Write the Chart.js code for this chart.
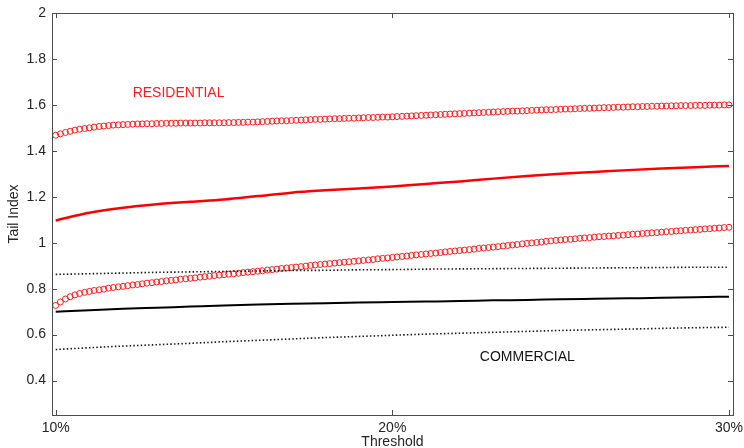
<!DOCTYPE html>
<html>
<head>
<meta charset="utf-8">
<title>Tail Index</title>
<script src="https://cdn.jsdelivr.net/npm/chart.js@4.4.0/dist/chart.umd.min.js"></script>
<style>
  html, body { margin: 0; padding: 0; background: #fff; }
  #wrap { width: 744px; height: 448px; }
</style>
</head>
<body>
<div id="wrap"><canvas id="tail" width="744" height="448"></canvas></div>
<script>
// threshold grid for the bootstrap bands (circles)
const BAND_X = [
  10, 10.14, 10.29, 10.43, 10.57, 10.71, 10.86,
  11, 11.14, 11.29, 11.43, 11.57, 11.71, 11.86,
  12, 12.14, 12.29, 12.43, 12.57, 12.71, 12.86,
  13, 13.14, 13.29, 13.43, 13.57, 13.71, 13.86,
  14, 14.14, 14.29, 14.43, 14.57, 14.71, 14.86,
  15, 15.14, 15.29, 15.43, 15.57, 15.71, 15.86,
  16, 16.14, 16.29, 16.43, 16.57, 16.71, 16.86,
  17, 17.14, 17.29, 17.43, 17.57, 17.71, 17.86,
  18, 18.14, 18.29, 18.43, 18.57, 18.71, 18.86,
  19, 19.14, 19.29, 19.43, 19.57, 19.71, 19.86,
  20, 20.14, 20.29, 20.43, 20.57, 20.71, 20.86,
  21, 21.14, 21.29, 21.43, 21.57, 21.71, 21.86,
  22, 22.14, 22.29, 22.43, 22.57, 22.71, 22.86,
  23, 23.14, 23.29, 23.43, 23.57, 23.71, 23.86,
  24, 24.14, 24.29, 24.43, 24.57, 24.71, 24.86,
  25, 25.14, 25.29, 25.43, 25.57, 25.71, 25.86,
  26, 26.14, 26.29, 26.43, 26.57, 26.71, 26.86,
  27, 27.14, 27.29, 27.43, 27.57, 27.71, 27.86,
  28, 28.14, 28.29, 28.43, 28.57, 28.71, 28.86,
  29, 29.14, 29.29, 29.43, 29.57, 29.71, 29.86,
  30
];

// residential upper band
const RES_UPPER = [
  1.468, 1.474, 1.480, 1.485, 1.490, 1.494, 1.497,
  1.500, 1.503, 1.506, 1.508, 1.510, 1.512, 1.513,
  1.514, 1.515, 1.516, 1.517, 1.517, 1.518, 1.518,
  1.519, 1.519, 1.520, 1.520, 1.520, 1.521, 1.521,
  1.521, 1.521, 1.521, 1.522, 1.522, 1.522, 1.522,
  1.522, 1.523, 1.523, 1.524, 1.524, 1.525, 1.525,
  1.526, 1.527, 1.528, 1.529, 1.530, 1.531, 1.531,
  1.532, 1.533, 1.534, 1.535, 1.536, 1.537, 1.537,
  1.538, 1.539, 1.540, 1.540, 1.541, 1.542, 1.542,
  1.543, 1.544, 1.545, 1.545, 1.546, 1.547, 1.547,
  1.548, 1.549, 1.550, 1.551, 1.552, 1.553, 1.554,
  1.555, 1.556, 1.557, 1.558, 1.559, 1.560, 1.561,
  1.562, 1.563, 1.564, 1.565, 1.566, 1.567, 1.568,
  1.569, 1.570, 1.571, 1.572, 1.573, 1.573, 1.574,
  1.575, 1.576, 1.577, 1.578, 1.579, 1.579, 1.580,
  1.581, 1.582, 1.582, 1.583, 1.584, 1.585, 1.585,
  1.586, 1.587, 1.588, 1.588, 1.589, 1.590, 1.590,
  1.591, 1.592, 1.592, 1.593, 1.593, 1.594, 1.594,
  1.595, 1.595, 1.596, 1.596, 1.597, 1.597, 1.597,
  1.598, 1.598, 1.598, 1.599, 1.599, 1.599, 1.600,
  1.600
];

// residential lower band
const RES_LOWER = [
  0.727, 0.742, 0.755, 0.765, 0.773, 0.779, 0.784,
  0.788, 0.792, 0.795, 0.798, 0.802, 0.805, 0.808,
  0.810, 0.813, 0.816, 0.818, 0.821, 0.824, 0.826,
  0.829, 0.831, 0.834, 0.836, 0.838, 0.841, 0.843,
  0.845, 0.847, 0.850, 0.852, 0.854, 0.857, 0.859,
  0.861, 0.863, 0.865, 0.867, 0.870, 0.872, 0.874,
  0.876, 0.878, 0.881, 0.883, 0.885, 0.888, 0.890,
  0.892, 0.894, 0.896, 0.898, 0.901, 0.903, 0.905,
  0.907, 0.909, 0.911, 0.913, 0.915, 0.917, 0.919,
  0.921, 0.923, 0.925, 0.927, 0.930, 0.932, 0.934,
  0.936, 0.938, 0.940, 0.942, 0.945, 0.947, 0.949,
  0.951, 0.953, 0.955, 0.957, 0.960, 0.962, 0.964,
  0.966, 0.968, 0.970, 0.972, 0.975, 0.977, 0.979,
  0.981, 0.983, 0.986, 0.988, 0.990, 0.992, 0.995,
  0.997, 0.999, 1.001, 1.003, 1.006, 1.008, 1.010,
  1.012, 1.014, 1.015, 1.017, 1.019, 1.021, 1.022,
  1.024, 1.026, 1.027, 1.029, 1.030, 1.032, 1.033,
  1.035, 1.037, 1.038, 1.040, 1.041, 1.043, 1.044,
  1.046, 1.048, 1.049, 1.051, 1.052, 1.054, 1.055,
  1.057, 1.058, 1.060, 1.061, 1.063, 1.064, 1.066,
  1.067
];

// point estimates and commercial band, one value per percent
const LINE_X = [10, 11, 12, 13, 14, 15, 16, 17, 18, 19, 20, 21, 22, 23, 24, 25, 26, 27, 28, 29, 30];
const RES_EST = [1.097, 1.130, 1.152, 1.167, 1.178, 1.188, 1.203, 1.218, 1.228, 1.236, 1.245,
                 1.256, 1.267, 1.279, 1.290, 1.300, 1.308, 1.316, 1.323, 1.329, 1.334];
const COM_EST = [0.700, 0.706, 0.712, 0.717, 0.722, 0.727, 0.731, 0.734, 0.737, 0.740, 0.742,
                 0.744, 0.746, 0.749, 0.751, 0.754, 0.756, 0.758, 0.760, 0.763, 0.765];
const COM_UPPER = [0.862, 0.865, 0.868, 0.871, 0.873, 0.875, 0.877, 0.879, 0.880, 0.882, 0.883,
                   0.885, 0.886, 0.887, 0.888, 0.889, 0.890, 0.891, 0.892, 0.893, 0.893];
const COM_LOWER = [0.535, 0.543, 0.550, 0.556, 0.562, 0.569, 0.575, 0.581, 0.587, 0.592, 0.597,
                   0.602, 0.606, 0.610, 0.614, 0.618, 0.621, 0.624, 0.627, 0.630, 0.632];

const X_TICKS = [10, 20, 30];
const Y_TICKS = [0.4, 0.6, 0.8, 1, 1.2, 1.4, 1.6, 1.8, 2];

const FONT = '"Liberation Sans", Arial, sans-serif';
const RED = '#ff1a1a';

const pts = (xs, ys) => xs.map((x, i) => ({x: x, y: ys[i]}));

// box around the plot and inward tick marks on all four sides, plus the two labels
const framePlugin = {
  id: 'frame',
  afterDatasetsDraw(chart){
    const {ctx, chartArea: a, scales: {x, y}} = chart;
    const len = 5;
    ctx.save();
    ctx.strokeStyle = '#4d4d4d';
    ctx.lineWidth = 1;
    ctx.strokeRect(Math.round(a.left) + 0.5, Math.round(a.top) + 0.5,
                   Math.round(a.right - a.left), Math.round(a.bottom - a.top));
    ctx.beginPath();
    Y_TICKS.forEach(v=>{
      const py = Math.round(y.getPixelForValue(v)) + 0.5;
      ctx.moveTo(a.left, py); ctx.lineTo(a.left + len, py);
      ctx.moveTo(a.right, py); ctx.lineTo(a.right - len, py);
    });
    X_TICKS.forEach(v=>{
      const px = Math.round(x.getPixelForValue(v)) + 0.5;
      ctx.moveTo(px, a.bottom); ctx.lineTo(px, a.bottom - len);
      ctx.moveTo(px, a.top); ctx.lineTo(px, a.top + len);
    });
    ctx.stroke();

    ctx.font = '14px ' + FONT;
    ctx.textAlign = 'center';
    ctx.textBaseline = 'middle';
    ctx.fillStyle = RED;
    ctx.fillText('RESIDENTIAL', x.getPixelForValue(13.65), y.getPixelForValue(1.65));
    ctx.fillStyle = '#141414';
    ctx.fillText('COMMERCIAL', x.getPixelForValue(24.01), y.getPixelForValue(0.5));
    ctx.restore();
  }
};

new Chart(document.getElementById('tail'), {
  type: 'line',
  data: {
    datasets: [
      { data: pts(LINE_X, COM_UPPER), borderColor: '#1a1a1a', borderWidth: 1.6, borderDash: [1.5, 2.2],
        pointRadius: 0, cubicInterpolationMode: 'monotone' },
      { data: pts(LINE_X, COM_LOWER), borderColor: '#1a1a1a', borderWidth: 1.6, borderDash: [1.5, 2.2],
        pointRadius: 0, cubicInterpolationMode: 'monotone' },
      { data: pts(LINE_X, COM_EST), borderColor: '#000', borderWidth: 2,
        pointRadius: 0, cubicInterpolationMode: 'monotone' },
      { data: pts(LINE_X, RES_EST), borderColor: '#ff0000', borderWidth: 2.5,
        pointRadius: 0, cubicInterpolationMode: 'monotone' },
      { data: pts(BAND_X, RES_UPPER), showLine: false, pointStyle: 'circle', pointRadius: 3,
        pointBorderWidth: 1, pointBorderColor: RED, pointBackgroundColor: 'rgba(0,0,0,0)' },
      { data: pts(BAND_X, RES_LOWER), showLine: false, pointStyle: 'circle', pointRadius: 3,
        pointBorderWidth: 1, pointBorderColor: RED, pointBackgroundColor: 'rgba(0,0,0,0)' }
    ]
  },
  options: {
    responsive: false,
    animation: false,
    events: [],
    layout: { padding: { top: 13, right: 11, left: 0, bottom: 0 } },
    plugins: { legend: { display: false }, tooltip: { enabled: false } },
    scales: {
      x: {
        type: 'linear', min: 9.89, max: 30.12,
        grid: { display: false, drawTicks: false }, border: { display: false },
        afterBuildTicks: s => { s.ticks = X_TICKS.map(v => ({value: v})); },
        afterFit: s => { s.height = 33; s.paddingLeft = 0; s.paddingRight = 0; },
        ticks: { color: '#262626', padding: 5, maxRotation: 0, autoSkip: false,
                 font: { family: FONT, size: 14 }, callback: v => v + '%' },
        title: { display: true, text: 'Threshold', color: '#262626',
                 font: { family: FONT, size: 14, lineHeight: 1 }, padding: { top: 0, bottom: -1 } }
      },
      y: {
        type: 'linear', min: 0.25, max: 2,
        grid: { display: false, drawTicks: false }, border: { display: false },
        afterBuildTicks: s => { s.ticks = Y_TICKS.map(v => ({value: v})); },
        afterFit: s => { s.width = 52; s.paddingTop = 0; s.paddingBottom = 0; },
        ticks: { color: '#262626', padding: 6, autoSkip: false,
                 font: { family: FONT, size: 14 }, callback: v => String(v) },
        title: { display: true, text: 'Tail Index', color: '#262626',
                 font: { family: FONT, size: 14, lineHeight: 1 }, padding: { top: 7, bottom: 0 } }
      }
    }
  },
  plugins: [framePlugin]
});
</script>
</body>
</html>
